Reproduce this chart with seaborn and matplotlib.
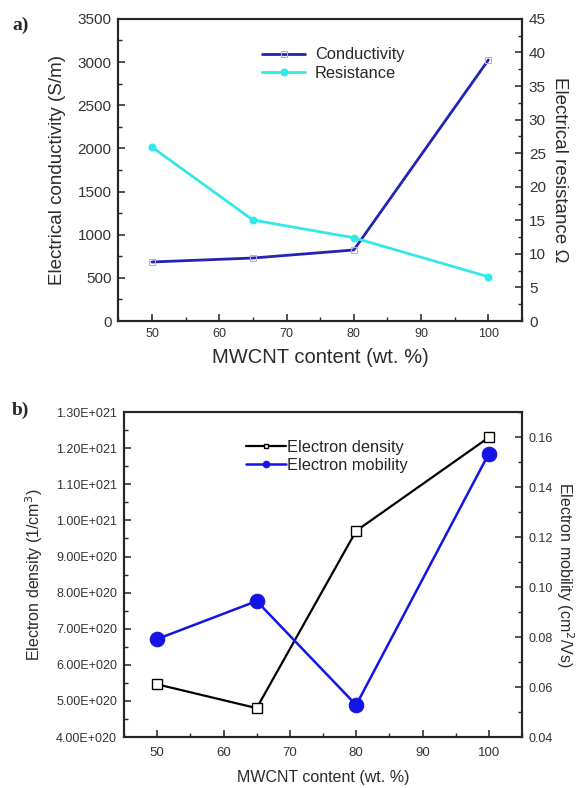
import matplotlib
matplotlib.use("Agg")
import matplotlib.pyplot as plt
import seaborn as sns
import numpy as np
from matplotlib.ticker import MultipleLocator, FixedLocator, FuncFormatter

sns.set_style("ticks")
plt.rcParams['font.family'] = ['Liberation Sans', 'DejaVu Sans']
plt.rcParams['xtick.direction'] = 'in'
plt.rcParams['ytick.direction'] = 'in'

# ---- data ----
content = [50, 65, 80, 100]
conductivity = [684, 730, 823, 3025]
resistance = [25.9, 15.05, 12.4, 6.6]
electron_density = [5.46e20, 4.80e20, 9.71e20, 1.23e21]
electron_mobility = [0.0792, 0.0944, 0.0528, 0.1534]

density_ticks = [4.0e20, 5.0e20, 6.0e20, 7.0e20, 8.0e20, 9.0e20, 1.0e21, 1.1e21, 1.2e21, 1.3e21]
density_tick_labels = ["4.00E+020", "5.00E+020", "6.00E+020", "7.00E+020", "8.00E+020",
                       "9.00E+020", "1.00E+021", "1.10E+021", "1.20E+021", "1.30E+021"]

c_cond = "#2323b4"
c_res = "#33e8e8"
c_dens = "#000000"
c_mob = "#1414e6"
txt = '#2a2a2a'

fig = plt.figure(figsize=(5.8, 7.88), dpi=100)

# ---- panel a ----
ax1 = fig.add_axes([0.204, 0.5926, 0.696, 0.3834])
ax1b = ax1.twinx()
sns.lineplot(x=content, y=conductivity, ax=ax1, color=c_cond, lw=2, marker='s',
             markersize=5, markerfacecolor='none', markeredgecolor='#b0b0e0',
             markeredgewidth=0.8, label='Conductivity', legend=False)
sns.lineplot(x=content, y=resistance, ax=ax1b, color=c_res, lw=2, marker='o',
             markersize=5, markeredgecolor=c_res, label='Resistance', legend=False)
ax1.set_xlim(45, 105)
ax1.set_ylim(0, 3500)
ax1b.set_ylim(0, 45)
ax1.xaxis.set_major_locator(MultipleLocator(10))
ax1.xaxis.set_minor_locator(MultipleLocator(5))
ax1.yaxis.set_major_locator(MultipleLocator(500))
ax1.yaxis.set_minor_locator(MultipleLocator(250))
ax1b.yaxis.set_major_locator(MultipleLocator(5))
ax1b.yaxis.set_minor_locator(MultipleLocator(2.5))
for a in (ax1, ax1b):
    a.tick_params(which='major', length=5, width=1.2, labelsize=11, colors='#333333', pad=5)
    a.tick_params(which='minor', length=3, width=1.0)
    for s in a.spines.values():
        s.set_linewidth(1.5)
ax1.tick_params(axis='x', labelsize=9, pad=5)
ax1.set_xlabel("MWCNT content (wt. %)", fontsize=14.5, color=txt, labelpad=6)
ax1.set_ylabel("Electrical conductivity (S/m)", fontsize=13.5, color=txt, labelpad=8)
ax1b.set_ylabel("Electrical resistance Ω", fontsize=13.5, color=txt, rotation=270, labelpad=16)
h1, l1 = ax1.get_legend_handles_labels()
h2, l2 = ax1b.get_legend_handles_labels()
ax1.legend(h1 + h2, l1 + l2, loc='upper left', bbox_to_anchor=(0.32, 0.955), frameon=False,
           fontsize=11.8, handlelength=2.6, handletextpad=0.6, labelspacing=0.2)
fig.text(0.022, 0.962, "a)", fontsize=14, fontweight='bold', family='Liberation Serif')

# ---- panel b ----
ax2 = fig.add_axes([0.2138, 0.0647, 0.6862, 0.4123])
ax2b = ax2.twinx()
sns.lineplot(x=content, y=electron_density, ax=ax2, color=c_dens, lw=1.6, marker='s',
             markersize=7.5, markerfacecolor='white', markeredgecolor=c_dens,
             markeredgewidth=1.0, label='Electron density', legend=False)
sns.lineplot(x=content, y=electron_mobility, ax=ax2b, color=c_mob, lw=1.8, marker='o',
             markersize=10.5, markeredgecolor=c_mob, label='Electron mobility', legend=False)
ax2.set_xlim(45, 105)
ax2.set_ylim(4.0e20, 1.3e21)
ax2b.set_ylim(0.04, 0.17)
ax2.xaxis.set_major_locator(MultipleLocator(10))
ax2.xaxis.set_minor_locator(MultipleLocator(5))
ax2.yaxis.set_major_locator(FixedLocator(density_ticks))
ax2.set_yticklabels(density_tick_labels)
ax2.yaxis.set_minor_locator(MultipleLocator(0.5e20))
ax2b.yaxis.set_major_locator(MultipleLocator(0.02))
ax2b.yaxis.set_minor_locator(MultipleLocator(0.01))
ax2b.yaxis.set_major_formatter(FuncFormatter(lambda v, p: f"{v:.2f}"))
for a in (ax2, ax2b):
    a.tick_params(which='major', length=5, width=1.2, labelsize=9, colors='#333333', pad=5)
    a.tick_params(which='minor', length=3, width=1.0)
    for s in a.spines.values():
        s.set_linewidth(1.5)
ax2.tick_params(axis='x', labelsize=9.5, pad=7)
ax2.set_xlabel("MWCNT content (wt. %)", fontsize=11.5, color=txt, labelpad=8)
ax2.set_ylabel("Electron density (1/cm$^3$)", fontsize=11.5, color=txt, labelpad=8)
ax2b.set_ylabel("Electron mobility (cm$^2$/Vs)", fontsize=11.5, color=txt, rotation=270, labelpad=16)
h1, l1 = ax2.get_legend_handles_labels()
h2, l2 = ax2b.get_legend_handles_labels()
leg = ax2.legend(h1 + h2, l1 + l2, loc='upper left', bbox_to_anchor=(0.27, 0.96), frameon=False,
                 fontsize=11.8, handlelength=2.4, handletextpad=0.1, labelspacing=0.2, markerscale=0.45)
fig.text(0.02, 0.473, "b)", fontsize=14, fontweight='bold', family='Liberation Serif')

fig.savefig("out.png", dpi=100)
